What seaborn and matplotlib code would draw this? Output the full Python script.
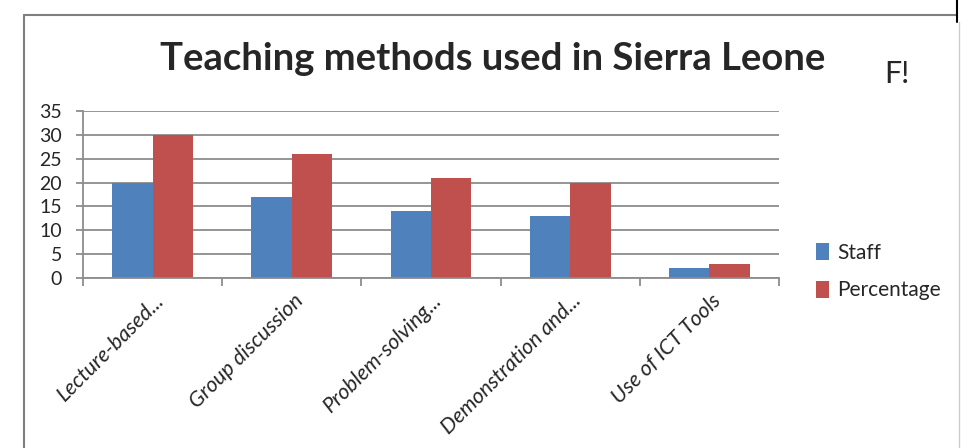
import matplotlib
matplotlib.use("Agg")
import matplotlib.pyplot as plt
from matplotlib.lines import Line2D
from matplotlib.patches import Patch
import matplotlib.transforms as mtransforms
import seaborn as sns
import pandas as pd
import numpy as np

categories = ["Lecture-based...", "Group discussion", "Problem-solving...",
              "Demonstration and...", "Use of ICT Tools"]
staff = [20, 17, 14, 13, 2]
percentage = [30, 26, 21, 20, 3]
series_names = ["Staff", "Percentage"]
colors = ["#4F81BD", "#C0504D"]
title = "Teaching methods used in Sierra Leone"

df = pd.DataFrame({
    "Method": categories * 2,
    "Series": [series_names[0]] * len(categories) + [series_names[1]] * len(categories),
    "Value": staff + percentage,
})

sns.set_theme(style="white")
plt.rcParams["font.family"] = ["Lato", "DejaVu Sans"]

fig = plt.figure(figsize=(9.61, 4.48), dpi=100)
ax = fig.add_axes([0.0864, 0.3795, 0.7242, 0.3728])

sns.barplot(data=df, x="Method", y="Value", hue="Series", palette=colors,
            width=0.58, ax=ax, legend=False, saturation=1, linewidth=0)

ax.set_ylim(0, 35)
ax.set_yticks(np.arange(0, 36, 5))
ax.set_xlim(-0.5, len(categories) - 0.5)
ax.yaxis.grid(True, color="#8c8c8c", linewidth=1.3)
ax.set_axisbelow(True)
ax.set_xlabel("")
ax.set_ylabel("")

for s in ["top", "right"]:
    ax.spines[s].set_visible(False)
for s in ["left", "bottom"]:
    ax.spines[s].set_color("#8c8c8c")
    ax.spines[s].set_linewidth(1.3)

ax.tick_params(axis="y", length=5, color="#8c8c8c", width=1.3, labelsize=14,
               pad=10, left=True)
ax.set_xticks(np.arange(len(categories)))
ax.set_xticklabels(categories, rotation=45, ha="right", rotation_mode="anchor",
                   fontstyle="italic", fontsize=15.5)
ax.tick_params(axis="x", length=0, pad=9)
ax.set_xticks(np.arange(-0.5, len(categories), 1.0), minor=True)
ax.tick_params(axis="x", which="minor", length=6, color="#8c8c8c", width=1.3,
               bottom=True)

offset = mtransforms.ScaledTranslation(0.01, 0, fig.dpi_scale_trans)
for lbl in ax.get_xticklabels():
    lbl.set_transform(lbl.get_transform() + offset)

fig.text(0.513, 0.868, title, ha="center", va="center", fontsize=27.5,
         fontweight="bold")
fig.text(0.933, 0.835, "F!", ha="center", va="center", fontsize=22)

handles = [Patch(facecolor=c, edgecolor="none") for c in colors]
leg = fig.legend(handles, series_names, loc="upper left",
                 bbox_to_anchor=(0.83, 0.50), frameon=False, fontsize=15,
                 handlelength=0.6, handleheight=0.9, handletextpad=0.4,
                 labelspacing=0.85)

# document frame around the chart
frame_kw = dict(color="#7f7f7f", linewidth=1.5, transform=fig.transFigure)
fig.add_artist(Line2D([0.025, 0.996], [0.967, 0.967], **frame_kw))
fig.add_artist(Line2D([0.025, 0.025], [0.0, 0.967], **frame_kw))
fig.add_artist(Line2D([0.996, 0.996], [0.95, 1.0], color="black", linewidth=1.5,
                      transform=fig.transFigure))
fig.add_artist(Line2D([0.998, 0.998], [0.0, 0.95], color="#cccccc", linewidth=1.0,
                      transform=fig.transFigure))

fig.savefig("out.png", dpi=100)
